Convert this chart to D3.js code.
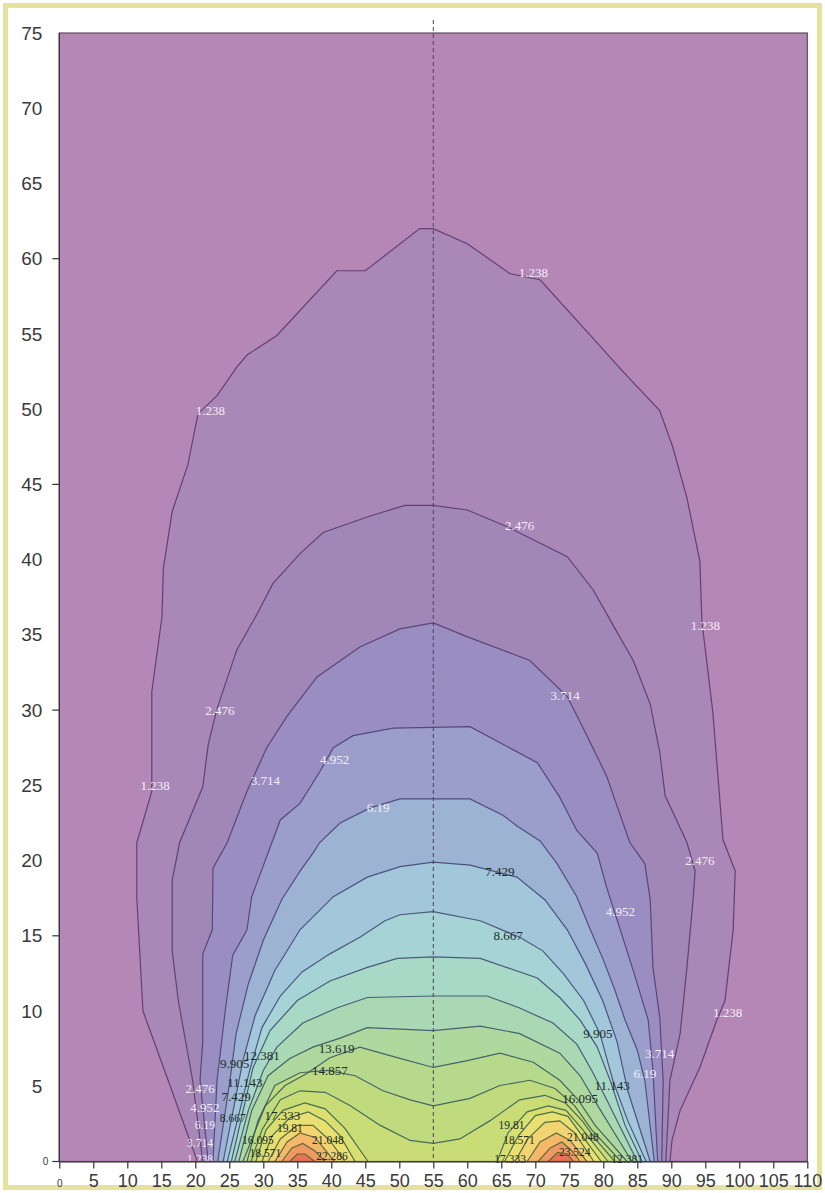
<!DOCTYPE html>
<html><head><meta charset="utf-8">
<script src="https://cdn.jsdelivr.net/npm/d3@7"></script>
<style>body{margin:0;background:#fff}svg{display:block}</style>
</head><body>
<svg id="chart" width="825" height="1193"></svg>
<script>
// ---------- data ----------
const levels = [1.238,2.476,3.714,4.952,6.19,7.429,8.667,9.905,11.143,12.381,13.619,14.857,16.095,17.333,18.571,19.81,21.048,22.286,23.524];
const bandColors = ["#b487b6","#a987b7","#a087b8","#9a8dc2","#9b9ecb","#9db3d3","#a2c6da","#a6d4d6","#a8d8c6","#aad8b2","#aed89e","#b6d98c","#c0db7e","#cadc76","#dae070","#e9e072","#f2d470","#f4b868","#f09862","#e87458"];
const xTicks = [0,5,10,15,20,25,30,35,40,45,50,55,60,65,70,75,80,85,90,95,100,105,110];
const yTickLabels = [0,5,10,15,20,25,30,35,40,45,50,55,60,65,70,75];
const yTickMarks = [0,15,30,45,60];
const centerLineX = 55;

const c1238 = [[20.3,0],[16.0,5.4],[12.3,10.0],[11.4,17.5],[11.4,21.2],[13.6,24.6],[13.6,31.2],[15.1,36.2],[15.3,39.4],[16.6,43.2],[18.9,46.3],[20.4,49.7],[23.2,50.9],[26.1,52.8],[27.6,53.6],[32.0,54.9],[40.8,59.2],[45.0,59.2],[53.0,62.0],[55.0,62.0],[60.0,61.0],[66.3,59.0],[70.7,58.6],[78.5,54.7],[82.9,52.5],[88.3,49.9],[90.2,47.5],[92.3,44.1],[94.2,39.9],[94.5,35.9],[96.1,29.9],[97.6,21.4],[99.4,19.3],[99.1,15.4],[97.9,10.7],[96.7,9.4],[94.2,6.25],[91.3,3.4],[90.1,1.4],[89.8,0]];
const c2476 = [[21.1,0],[19.6,5.4],[17.5,10.7],[16.6,14.0],[16.6,18.7],[17.7,21.2],[21.1,24.9],[21.9,27.7],[23.2,30.1],[26.1,34.0],[29.1,36.4],[31.4,38.4],[35.4,40.4],[38.8,41.8],[45.7,42.9],[50.8,43.6],[55,43.6],[60.0,43.3],[65.8,42.2],[74.7,40.2],[78.5,38.0],[81.5,35.6],[84.4,33.3],[86.9,30.4],[88.3,27.2],[89.1,24.3],[92.3,21.2],[93.5,19.3],[93.2,17.4],[92.3,12.9],[91.3,8.5],[89.8,5.4],[89.2,0]];
const c3714 = [[21.9,0],[20.7,5.4],[21.1,8.0],[21.1,13.8],[22.5,15.4],[22.6,19.5],[24.7,21.2],[27.6,24.6],[30.5,27.5],[33.5,29.6],[37.9,32.2],[44.2,34.2],[50.1,35.4],[55,35.8],[60.4,34.8],[69.2,33.3],[74.7,30.9],[77.6,28.3],[80.5,25.6],[82.5,23.0],[83.9,21.2],[86.1,19.8],[86.9,17.4],[87.3,12.9],[88.3,9.6],[88.8,5.4],[88.6,0]];
const c4952 = [[22.6,0],[23.2,5.4],[24.4,10.0],[25.5,13.7],[27.6,15.4],[28.3,17.6],[32.5,22.7],[35.4,23.8],[38.3,25.9],[40.3,27.5],[43.2,28.3],[49.1,28.8],[55,28.85],[60.4,28.9],[70.3,26.5],[73.6,24.2],[76.1,22.0],[79.1,20.5],[80.5,18.2],[82.5,15.4],[84.6,12.4],[86.6,9.4],[87.3,6.05],[88.0,0]];
const c6190 = [[23.3,0],[25.1,5.4],[26.0,8.5],[27.8,11.8],[30.0,14.7],[32.7,17.4],[35.4,19.3],[37.3,20.5],[38.3,21.2],[41.3,22.5],[45.7,23.5],[50.1,24.1],[55,24.1],[60.4,24.1],[65.3,23.0],[67.3,22.3],[70.7,21.3],[73.2,19.8],[76.1,17.6],[78.1,15.4],[80.0,13.4],[81.7,11.4],[83.2,9.4],[85.0,7.4],[86.1,5.4],[87.5,0]];
const c7429 = [[24.1,0],[27.0,6.7],[28.8,9.7],[31.7,12.7],[35.4,15.4],[40.3,17.6],[45.3,18.9],[50.1,19.6],[55,19.9],[60.4,19.7],[67.3,18.9],[71.4,17.4],[74.7,15.4],[77.3,13.2],[79.9,10.7],[82.0,8.0],[83.6,4.7],[86.9,0]];
const c8667 = [[24.7,0],[28.0,6.05],[29.8,8.9],[32.5,11.0],[35.7,12.6],[39.8,13.8],[44.2,14.9],[47.9,16.0],[50.1,16.4],[55,16.6],[61.9,16.0],[67.7,14.9],[71.1,14.0],[74.1,12.5],[77.1,10.7],[79.5,8.5],[81.4,5.4],[83.6,2.7],[86.3,0]];
const c9905 = [[25.3,0],[28.5,6.25],[31.0,8.7],[35.0,10.7],[39.8,12.0],[45.3,12.9],[49.7,13.5],[55,13.6],[61.9,13.5],[70.3,12.2],[73.6,10.9],[76.6,9.4],[79.1,7.6],[81.0,5.4],[83.2,2.4],[85.7,0]];
const c11143 = [[25.8,0],[27.8,3.4],[30.0,6.05],[32.0,7.6],[35.8,9.2],[40.8,10.2],[45.3,10.9],[55,11.0],[62.9,11.0],[67.7,10.2],[72.6,9.2],[76.1,7.8],[78.3,6.05],[80.5,4.1],[85.0,0]];
const c12381 = [[26.4,0],[28.3,3.4],[30.7,5.7],[33.9,6.85],[37.3,7.6],[41.3,8.2],[45.3,8.9],[55,8.7],[61.9,9.0],[67.7,8.5],[73.6,7.2],[76.6,5.7],[79.2,3.7],[84.2,0]];
const c13619 = [[27.0,0],[30.3,3.7],[33.2,5.05],[36.4,5.85],[39.8,6.9],[44.2,7.6],[49.7,6.9],[55,6.25],[60.0,6.7],[64.8,7.2],[69.7,6.6],[73.6,5.4],[76.3,4.1],[78.8,2.4],[83.5,0]];
const c14857 = [[27.6,0],[29.2,2.7],[31.7,5.05],[35.4,5.9],[39.4,6.05],[43.5,5.7],[47.6,4.7],[51.6,4.1],[55,3.7],[60.4,4.2],[64.8,5.05],[69.2,5.4],[72.9,4.85],[75.8,3.7],[78.3,2.1],[82.6,0]];
const c16095 = [[28.2,0],[29.8,2.1],[32.5,4.1],[35.4,4.7],[39.1,4.6],[42.8,3.7],[47.2,2.4],[51.6,1.4],[55,1.2],[58.9,1.5],[63.3,2.7],[67.7,4.1],[71.4,4.4],[74.4,3.9],[76.9,2.7],[79.0,1.4],[81.7,0]];
const c17333L = [[28.9,0],[30.4,2.1],[32.9,3.4],[36.1,3.9],[39.1,3.5],[42.0,2.2],[45.4,0]];
const c17333R = [[64.4,0],[66.0,1.9],[68.8,3.3],[71.9,3.7],[74.5,3.4],[77.0,2.1],[80.7,0]];
const c18571L = [[29.8,0],[31.3,1.7],[33.9,2.9],[36.6,3.3],[39.1,2.7],[41.3,1.7],[43.5,0]];
const c18571R = [[65.5,0],[67.5,1.7],[70.0,3.05],[72.5,3.3],[74.8,3.0],[76.9,1.7],[79.7,0]];
const c19810L = [[30.7,0],[32.5,1.5],[35.0,2.4],[37.3,2.4],[39.8,1.4],[42.0,0]];
const c19810R = [[67.0,0],[68.9,1.5],[71.4,2.6],[73.6,2.7],[75.8,1.9],[78.6,0]];
const c21048L = [[31.7,0],[33.5,1.3],[35.4,1.9],[37.6,1.6],[40.5,0]];
const c21048R = [[68.8,0],[70.7,1.3],[73.1,1.9],[75.1,1.4],[77.6,0]];
const c22286L = [[32.7,0],[34.2,0.9],[35.8,1.2],[37.6,0.7],[39.1,0]];
const c22286R = [[70.4,0],[72.2,0.9],[73.9,1.3],[75.4,0.7],[76.6,0]];
const c23524L = [[33.9,0],[35.0,0.5],[36.1,0.5],[37.6,0]];
const c23524R = [[71.9,0],[73.3,0.6],[74.7,0.5],[75.6,0]];

const contourParts = [
  [c1238],[c2476],[c3714],[c4952],[c6190],[c7429],[c8667],[c9905],[c11143],[c12381],[c13619],[c14857],[c16095],
  [c17333L,c17333R],[c18571L,c18571R],[c19810L,c19810R],[c21048L,c21048R],[c22286L,c22286R],[c23524L,c23524R]
];

// contour labels: [x, y, text]
const contourLabels = [
  [69.7,59.1,"1.238"],[22.2,49.9,"1.238"],[95.0,35.6,"1.238"],[14.1,25.0,"1.238"],[98.3,9.9,"1.238"],[20.7,0.2,"1.238"],
  [67.7,42.3,"2.476"],[23.6,30.0,"2.476"],[94.2,20.0,"2.476"],[20.7,4.85,"2.476"],
  [74.4,31.0,"3.714"],[30.3,25.3,"3.714"],[88.3,7.2,"3.714"],[20.7,1.2,"3.714"],
  [40.5,26.7,"4.952"],[82.5,16.6,"4.952"],[21.4,3.6,"4.952"],
  [46.9,23.5,"6.19"],[86.1,5.85,"6.19"],[21.4,2.4,"6.19"],
  [64.8,19.3,"7.429"],[26.0,4.3,"7.429"],
  [66.0,15.0,"8.667"],[25.5,2.9,"8.667"],
  [79.2,8.5,"9.905"],[25.8,6.5,"9.905"],
  [81.3,5.05,"11.143"],[27.3,5.25,"11.143"],
  [29.8,7.05,"12.381"],[83.5,0.2,"12.381"],
  [40.8,7.5,"13.619"],[39.8,6.05,"14.857"],
  [76.6,4.2,"16.095"],[29.2,1.4,"16.095"],
  [32.8,3.05,"17.333"],[66.3,0.2,"17.333"],
  [30.3,0.55,"18.571"],[67.6,1.45,"18.571"],
  [33.9,2.2,"19.81"],[66.5,2.45,"19.81"],
  [39.5,1.45,"21.048"],[77.0,1.65,"21.048"],
  [40.1,0.4,"22.286"],[75.8,0.6,"23.524"]
];

// ---------- drawing ----------
const svg = d3.select("#chart");
const x = d3.scaleLinear().domain([0,110]).range([59.3,807.3]);
const y = d3.scaleLinear().domain([0,75]).range([1161.5,33]);

// yellow frame
svg.append("rect").attr("x",5.5).attr("y",5.5).attr("width",814).attr("height",1182)
  .attr("fill","#fff").attr("stroke","#e6e19c").attr("stroke-width",5);

const plot = svg.append("g");
plot.append("rect").attr("x",x(0)).attr("y",y(75)).attr("width",x(110)-x(0)).attr("height",y(0)-y(75))
  .attr("fill",bandColors[0]);

svg.append("clipPath").attr("id","clip").append("rect")
  .attr("x",x(0)).attr("y",y(75)).attr("width",x(110)-x(0)).attr("height",y(0)-y(75));

const line = d3.line().x(d=>x(d[0])).y(d=>y(d[1]));
const fills = plot.append("g").attr("clip-path","url(#clip)");
const strokes = plot.append("g").attr("clip-path","url(#clip)");
const strokeColor = d3.scaleLinear().domain([0,5,12,18]).range(["#5a3a6a","#45467a","#355f58","#4e6534"]);

contourParts.forEach((parts,i)=>{
  parts.forEach(p=>{
    fills.append("path").attr("d",line(p)+"Z").attr("fill",bandColors[i+1]);
    strokes.append("path").attr("d",line(p)).attr("fill","none")
      .attr("stroke",strokeColor(i)).attr("stroke-width",1.2).attr("stroke-opacity",0.9);
  });
});

// contour labels
const lab = plot.append("g").attr("font-family","'Liberation Serif','DejaVu Serif',serif");
contourLabels.forEach(d=>{
  const v = parseFloat(d[2]);
  lab.append("text").attr("x",x(d[0])).attr("y",y(d[1])).attr("dy","0.35em")
    .attr("font-size", d[1] < 3 ? 11.5 : 13)
    .attr("text-anchor","middle").attr("fill", v<7 ? "#f4eef6" : "#1c2c28").text(d[2]);
});

// center dashed line
plot.append("line").attr("x1",x(centerLineX)).attr("x2",x(centerLineX)).attr("y1",y(75)-13).attr("y2",y(0))
  .attr("stroke","#4a4050").attr("stroke-width",1).attr("stroke-dasharray","4,3");

// frame
plot.append("rect").attr("x",x(0)).attr("y",y(75)).attr("width",x(110)-x(0)).attr("height",y(0)-y(75))
  .attr("fill","none").attr("stroke","#5e4a62").attr("stroke-width",1.2);

// x axis
const xg = svg.append("g").attr("transform",`translate(0,${y(0)})`)
  .call(d3.axisBottom(x).tickValues(xTicks).tickSize(7).tickSizeOuter(0).tickPadding(6));
xg.select(".domain").attr("stroke","#333").attr("stroke-width",1.2);
xg.selectAll(".tick line").attr("stroke","#333").attr("stroke-width",1.2);
xg.selectAll(".tick text").attr("font-family","'Liberation Sans',Arial,sans-serif")
  .attr("font-size",d=>d===0?10:18).attr("fill","#3a3a3a").attr("dy",d=>d===0?"1.2em":"0.71em");

// y axis
const yg = svg.append("g").attr("transform",`translate(${x(0)},0)`)
  .call(d3.axisLeft(y).tickValues(yTickLabels).tickSize(0).tickPadding(17));
yg.select(".domain").remove();
yg.selectAll(".tick text").attr("font-family","'Liberation Sans',Arial,sans-serif")
  .attr("font-size",d=>d===0?10:19).attr("fill","#3a3a3a")
  .attr("dx",d=>d===0?"6":"0");
svg.append("g").selectAll("line").data(yTickMarks).join("line")
  .attr("x1",x(0)-7).attr("x2",x(0)).attr("y1",d=>y(d)).attr("y2",d=>y(d))
  .attr("stroke","#333").attr("stroke-width",1.2);
svg.append("line").attr("x1",x(0)).attr("x2",x(0)).attr("y1",y(75)).attr("y2",y(0))
  .attr("stroke","#333").attr("stroke-width",1.2);
</script>
</body></html>
